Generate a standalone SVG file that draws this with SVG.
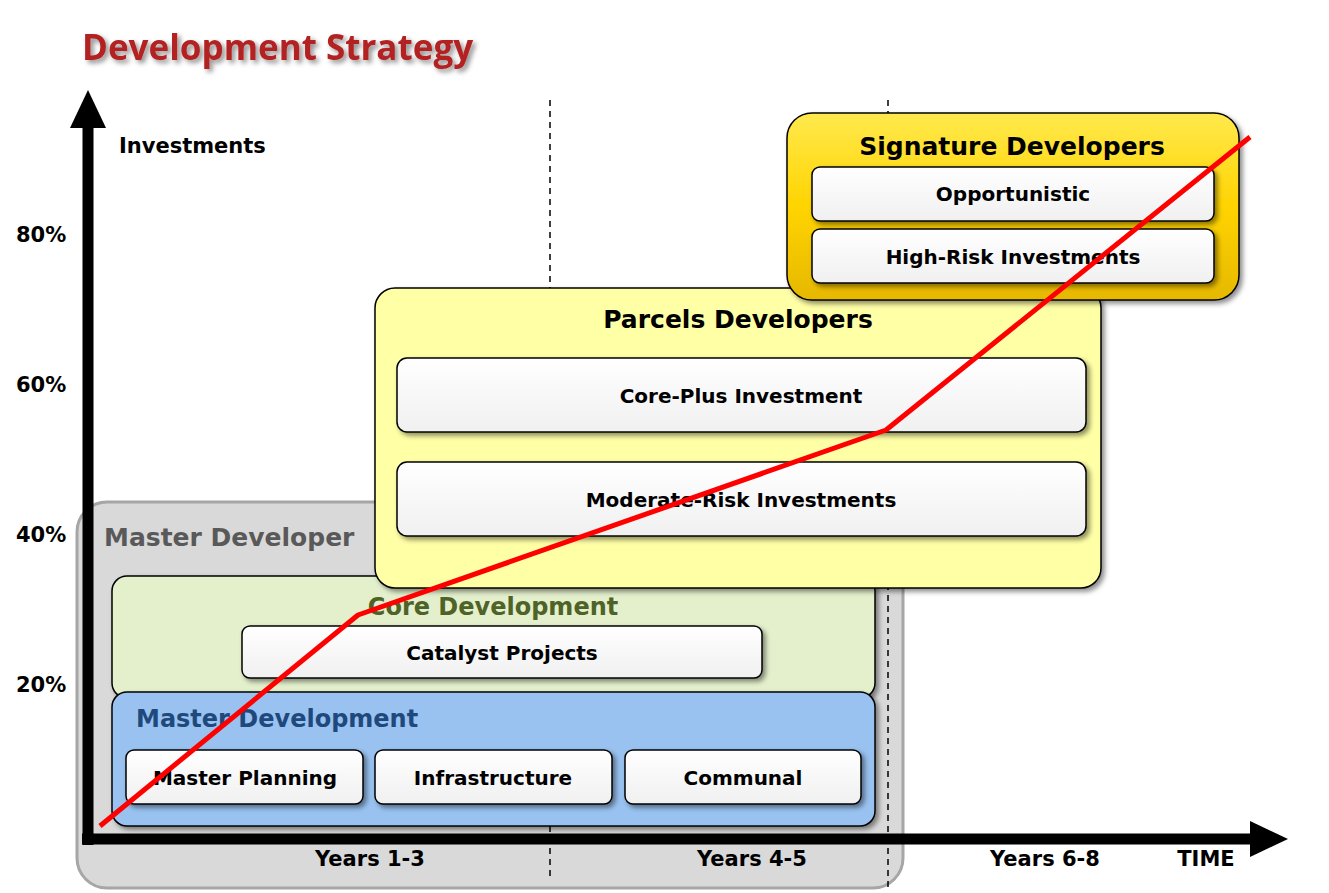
<svg xmlns="http://www.w3.org/2000/svg" width="1329" height="893" viewBox="0 0 1329 893">
<defs>
<filter id="sh" x="-10%" y="-10%" width="130%" height="130%"><feDropShadow dx="3" dy="3" stdDeviation="2.5" flood-color="#000" flood-opacity="0.45"/></filter>
<linearGradient id="gold" x1="0" y1="0" x2="0" y2="1"><stop offset="0" stop-color="#ffe94d"/><stop offset="0.5" stop-color="#ffd400"/><stop offset="1" stop-color="#e6b800"/></linearGradient>
<linearGradient id="wht" x1="0" y1="0" x2="0" y2="1"><stop offset="0" stop-color="#fff"/><stop offset="1" stop-color="#f0f0f0"/></linearGradient>
</defs>
<style>
text{font-family:"DejaVu Sans",Verdana,sans-serif;font-weight:bold}
.ax{font-size:21px;fill:#000}
.w{fill:url(#wht);stroke:#000;stroke-width:1.5;filter:url(#sh)}
.wt{font-size:20px;text-anchor:middle;fill:#000}
.dash{stroke:#000;stroke-width:1.5;stroke-dasharray:6,5}
</style>
<rect width="1329" height="893" fill="#fff"/>
<text x="82" y="60" font-size="35" fill="#b22222" style="font-family:'Open Sans',sans-serif;filter:url(#sh)">Development Strategy</text>
<g id="master-developer">
<rect x="77" y="502" width="826" height="386" rx="30" fill="#d9d9d9" stroke="#a6a6a6" stroke-width="3"/>
<text x="104" y="546" font-size="25" fill="#595959">Master Developer</text>
</g>
<line class="dash" x1="550" y1="100" x2="550" y2="876"/>
<line class="dash" x1="888" y1="100" x2="888" y2="890"/>
<g id="core-development">
<rect x="112" y="576" width="763" height="122" rx="15" fill="#e4f0cc" stroke="#000" stroke-width="1.5" filter="url(#sh)"/>
<text x="493" y="615" font-size="24" text-anchor="middle" fill="#4f6228">Core Development</text>
</g>
<g id="catalyst"><rect class="w" x="242" y="626" width="520" height="52" rx="8"/><text class="wt" x="502" y="660">Catalyst Projects</text></g>
<g id="master-development">
<rect x="112" y="692" width="763" height="134" rx="15" fill="#99c2f0" stroke="#000" stroke-width="1.5" filter="url(#sh)"/>
<text x="136" y="727" font-size="24" fill="#1f497d">Master Development</text>
</g>
<g id="planning"><rect class="w" x="126" y="750" width="237" height="54" rx="8"/><text class="wt" x="245" y="785">Master Planning</text></g>
<g id="infra"><rect class="w" x="375" y="750" width="237" height="54" rx="8"/><text class="wt" x="493" y="785">Infrastructure</text></g>
<g id="communal"><rect class="w" x="625" y="750" width="236" height="54" rx="8"/><text class="wt" x="743" y="785">Communal</text></g>
<g id="parcels">
<rect x="375" y="288" width="726" height="300" rx="20" fill="#ffffa6" stroke="#000" stroke-width="1.5" filter="url(#sh)"/>
<text x="738" y="328" font-size="25" text-anchor="middle">Parcels Developers</text>
</g>
<g id="coreplus"><rect class="w" x="397" y="358" width="689" height="74" rx="10"/><text class="wt" x="741" y="403">Core-Plus Investment</text></g>
<g id="moderate"><rect class="w" x="397" y="462" width="689" height="74" rx="10"/><text class="wt" x="741" y="507">Moderate-Risk Investments</text></g>
<g id="signature">
<rect x="787" y="113" width="452" height="187" rx="25" fill="url(#gold)" stroke="#000" stroke-width="1.5" filter="url(#sh)"/>
<text x="1012" y="155" font-size="25" text-anchor="middle">Signature Developers</text>
</g>
<g id="opportunistic"><rect class="w" x="812" y="167" width="402" height="54" rx="8"/><text class="wt" x="1013" y="201">Opportunistic</text></g>
<g id="highrisk"><rect class="w" x="812" y="229" width="402" height="54" rx="8"/><text class="wt" x="1013" y="264">High-Risk Investments</text></g>
<g id="axes">
<line x1="88" y1="125" x2="88" y2="845" stroke="#000" stroke-width="11"/>
<polygon points="70,128 88,90 106,128" fill="#000"/>
<line x1="82" y1="839" x2="1255" y2="839" stroke="#000" stroke-width="11"/>
<polygon points="1250,821 1288,839 1250,857" fill="#000"/>
<text class="ax" x="119" y="153">Investments</text>
<text class="ax" x="16" y="242">80%</text>
<text class="ax" x="16" y="392">60%</text>
<text class="ax" x="16" y="542">40%</text>
<text class="ax" x="16" y="692">20%</text>
<text class="ax" x="370" y="866" text-anchor="middle">Years 1-3</text>
<text class="ax" x="752" y="866" text-anchor="middle">Years 4-5</text>
<text class="ax" x="1045" y="866" text-anchor="middle">Years 6-8</text>
<text class="ax" x="1206" y="866" text-anchor="middle">TIME</text>
</g>
<g id="connectors">
<polyline points="100,826 358,615 886,430 1250,137" fill="none" stroke="#ff0000" stroke-width="5" stroke-linejoin="round"/>
</g>
</svg>
